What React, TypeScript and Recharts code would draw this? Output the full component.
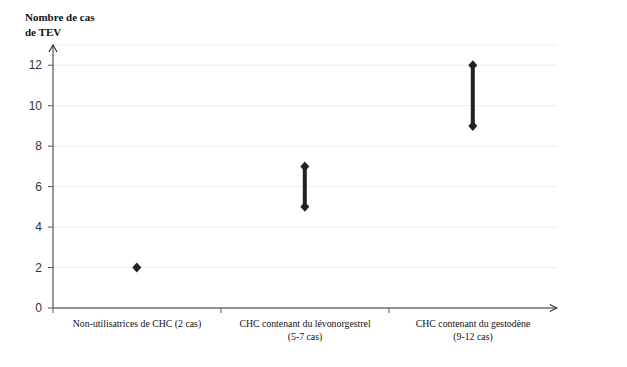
import { ComposedChart, Bar, XAxis, YAxis, CartesianGrid } from "recharts";

const categories = [
  ["Non-utilisatrices de CHC (2 cas)"],
  ["CHC contenant du lévonorgestrel", "(5-7 cas)"],
  ["CHC contenant du gestodène", "(9-12 cas)"],
];
const lowValues = [2, 5, 9];
const highValues = [2, 7, 12];
const yTicks = [0, 2, 4, 6, 8, 10, 12];

const data = categories.map((lines, i) => ({
  name: lines.join("\n"),
  range: [lowValues[i], highValues[i]],
}));

const INK = "#222";

function Diamond({ cx, cy }: { cx: number; cy: number }) {
  return <path d={`M${cx},${cy - 5} L${cx + 4.5},${cy} L${cx},${cy + 5} L${cx - 4.5},${cy} Z`} fill={INK} />;
}

function RangeShape(props: any) {
  const { x, y, width, height } = props;
  const cx = x + width / 2;
  const top = Math.min(y, y + height);
  const bottom = Math.max(y, y + height);
  if (bottom - top < 1) return <Diamond cx={cx} cy={top} />;
  return (
    <g>
      <line x1={cx} y1={top} x2={cx} y2={bottom} stroke={INK} strokeWidth={4} />
      <Diamond cx={cx} cy={top} />
      <Diamond cx={cx} cy={bottom} />
    </g>
  );
}

function CategoryTick(props: any) {
  const { x, y, payload } = props;
  const lines = String(payload.value).split("\n");
  const half = payload.offset ?? 84;
  return (
    <g>
      <line x1={x - half} y1={y - 8} x2={x - half} y2={y - 3} stroke="#555" />
      <text x={x} y={y + 11} textAnchor="middle" fontFamily="Liberation Serif" fontSize={9.8} fill="#111">
        {lines.map((l, i) => (
          <tspan key={i} x={x} dy={i === 0 ? 0 : 13}>
            {l}
          </tspan>
        ))}
      </text>
    </g>
  );
}

export default function App() {
  return (
    <div style={{ position: "absolute", left: 0, top: 0, width: 627, height: 367, background: "#fff" }}>
      <div
        style={{
          position: "absolute",
          left: 25,
          top: 10,
          fontFamily: "Liberation Serif",
          fontWeight: "bold",
          fontSize: 11,
          lineHeight: "15px",
          color: "#111",
        }}
      >
        Nombre de cas
        <br />
        de TEV
      </div>
      <ComposedChart width={627} height={367} data={data} margin={{ top: 45, right: 70, bottom: 0, left: 0 }}>
        <defs>
          <marker id="arrowHead" viewBox="0 0 10 10" refX="9" refY="5" markerWidth="9" markerHeight="9" orient="auto-start-reverse" markerUnits="userSpaceOnUse">
            <path d="M1,1 L9,5 L1,9" fill="none" stroke="#333" strokeWidth={1.2} />
          </marker>
        </defs>
        <CartesianGrid horizontal vertical={false} stroke="#ececec" />
        <XAxis
          dataKey="name"
          height={59}
          tickLine={false}
          axisLine={{ stroke: "#333", markerEnd: "url(#arrowHead)" }}
          tick={<CategoryTick />}
          interval={0}
        />
        <YAxis
          domain={[0, 13]}
          ticks={yTicks}
          width={53}
          tickSize={5}
          tickMargin={6}
          tickLine={{ stroke: "#555" }}
          axisLine={{ stroke: "#333" }}
          tick={{ fontFamily: "Liberation Sans", fontSize: 12, fill: "#333" }}
        />
        <Bar dataKey="range" shape={<RangeShape />} isAnimationActive={false} />
      </ComposedChart>
      <svg width={20} height={20} style={{ position: "absolute", left: 43, top: 43, overflow: "visible" }}>
        <path d="M6,9 L10,2 L14,9" fill="none" stroke="#333" strokeWidth={1.2} />
      </svg>
    </div>
  );
}
